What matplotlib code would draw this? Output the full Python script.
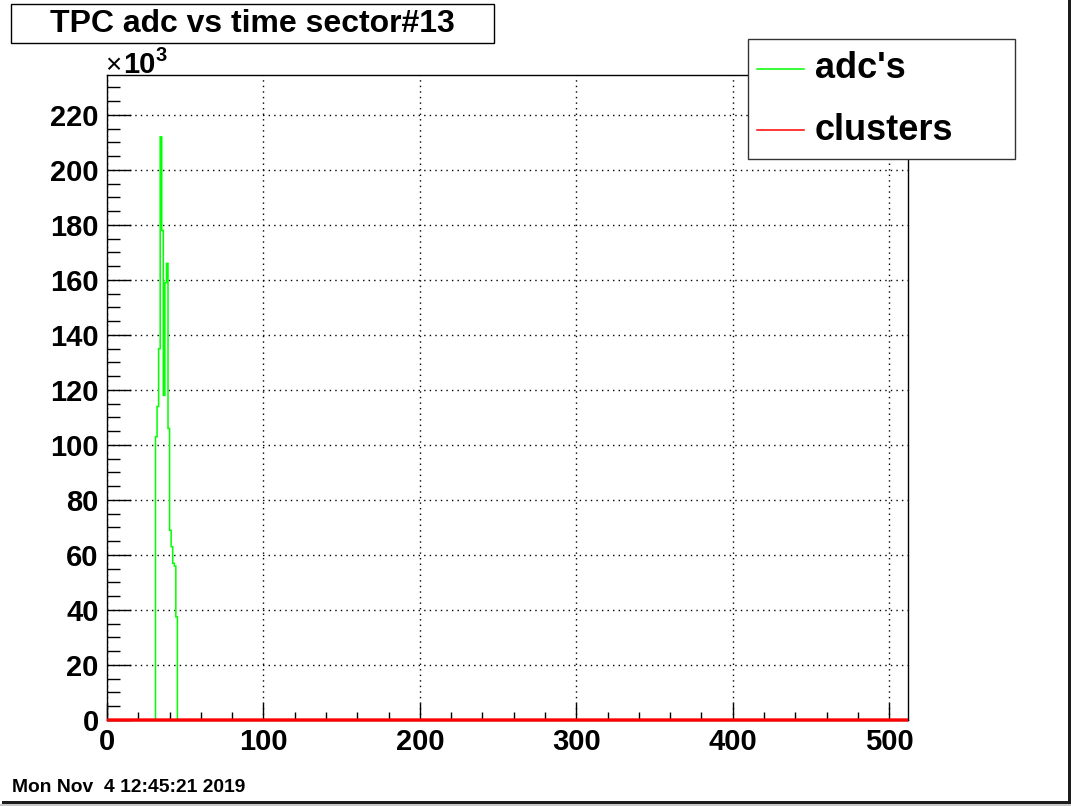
import matplotlib
matplotlib.use("Agg")
import matplotlib.pyplot as plt
from matplotlib.patches import Rectangle
from matplotlib.lines import Line2D
from matplotlib.ticker import MultipleLocator, FuncFormatter
import numpy as np

plt.rcParams['font.family'] = ['Liberation Sans', 'DejaVu Sans']
plt.rcParams['font.weight'] = 'bold'

# histogram: 512 time bins, only a few are filled
n_bins = 512
adc_bins = [31, 32, 33, 34, 35, 36, 37, 38, 39, 40, 41, 42, 43, 44]
adc_vals = [103000, 114000, 135000, 212000, 178000, 118000, 159000,
            166000, 106000, 69000, 63000, 57000, 56000, 37500]
cluster_vals = [0] * n_bins
legend_labels = ["adc's", 'clusters']
legend_colors = ['#00ff00', '#ff0000']

edges = np.arange(n_bins + 1)
adc = np.zeros(n_bins)
adc[adc_bins] = adc_vals

W, H = 1071, 806
fig = plt.figure(figsize=(W / 100, H / 100), dpi=100)
ax = fig.add_axes([107 / W, 1 - 720 / H, (908 - 107) / W, (720 - 75) / H])

ax.stairs(adc, edges, color='#00ff00', lw=1.1, zorder=3)
ax.stairs(cluster_vals, edges, color='#ff0000', lw=2.4, zorder=4, clip_on=False)

ax.set_xlim(0, 512)
ax.set_ylim(0, 234500)

ax.xaxis.set_major_locator(MultipleLocator(100))
ax.xaxis.set_minor_locator(MultipleLocator(20))
ax.yaxis.set_major_locator(MultipleLocator(20000))
ax.yaxis.set_minor_locator(MultipleLocator(5000))
ax.yaxis.set_major_formatter(FuncFormatter(lambda v, p: f'{v / 1000:.0f}'))

ax.tick_params(axis='both', which='both', direction='in', top=False, right=False,
               labelsize=21, width=1, colors='black')
ax.tick_params(axis='y', which='major', length=17, pad=6)
ax.tick_params(axis='y', which='minor', length=9)
ax.tick_params(axis='x', which='major', length=12, pad=6)
ax.tick_params(axis='x', which='minor', length=6)
for lab in ax.get_xticklabels() + ax.get_yticklabels():
    lab.set_fontweight('bold')

ax.grid(True, which='major', color='black', linestyle=(0, (1, 3)), lw=1)
for s in ax.spines.values():
    s.set_linewidth(1)
    s.set_color('black')

# axis multiplier
fig.text(105 / W, 1 - 73 / H, '\u00d7', ha='left', va='baseline',
         fontsize=20, fontweight='normal')
fig.text(123.5 / W, 1 - 73 / H, '10', ha='left', va='baseline',
         fontsize=21, fontweight='bold')
fig.text(156 / W, 1 - 61 / H, '3', ha='left', va='baseline',
         fontsize=14.5, fontweight='bold')

# title box
fig.patches.append(Rectangle((11 / W, 1 - 43 / H), 483 / W, 39 / H,
                             transform=fig.transFigure, facecolor='white',
                             edgecolor='black', lw=1))
fig.text(252 / W, 1 - 24 / H, 'TPC adc vs time sector#13', ha='center',
         va='center', fontsize=23, fontweight='bold')

# legend box, drawn by hand
fig.patches.append(Rectangle((748 / W, 1 - 159 / H), 267 / W, 120 / H,
                             transform=fig.transFigure, facecolor='white',
                             edgecolor='#333333', lw=1, zorder=5))
for i, (lab, col) in enumerate(zip(legend_labels, legend_colors)):
    yy = 1 - (69 + 61 * i) / H
    fig.add_artist(Line2D([757 / W, 804 / W], [yy, yy], color=col, lw=1.1,
                          transform=fig.transFigure, zorder=6))
    fig.text(815 / W, yy, lab, ha='left', va='center', fontsize=26,
             fontweight='bold', zorder=6)

fig.text(12 / W, 1 - 787 / H, 'Mon Nov  4 12:45:21 2019', ha='left',
         va='center', fontsize=13.9, fontweight='bold')

# canvas bevel
fig.patches.append(Rectangle((1068 / W, 1 - 804 / H), 3 / W, 804 / H,
                             transform=fig.transFigure, facecolor='#1c1c1c', lw=0))
fig.patches.append(Rectangle((2 / W, 1 - 804 / H), 1069 / W, 3 / H,
                             transform=fig.transFigure, facecolor='#1c1c1c', lw=0))
fig.patches.append(Rectangle((0, 0), 1, 2 / H, transform=fig.transFigure,
                             facecolor='#c8c8c8', lw=0))

fig.savefig('out.png', dpi=100)
